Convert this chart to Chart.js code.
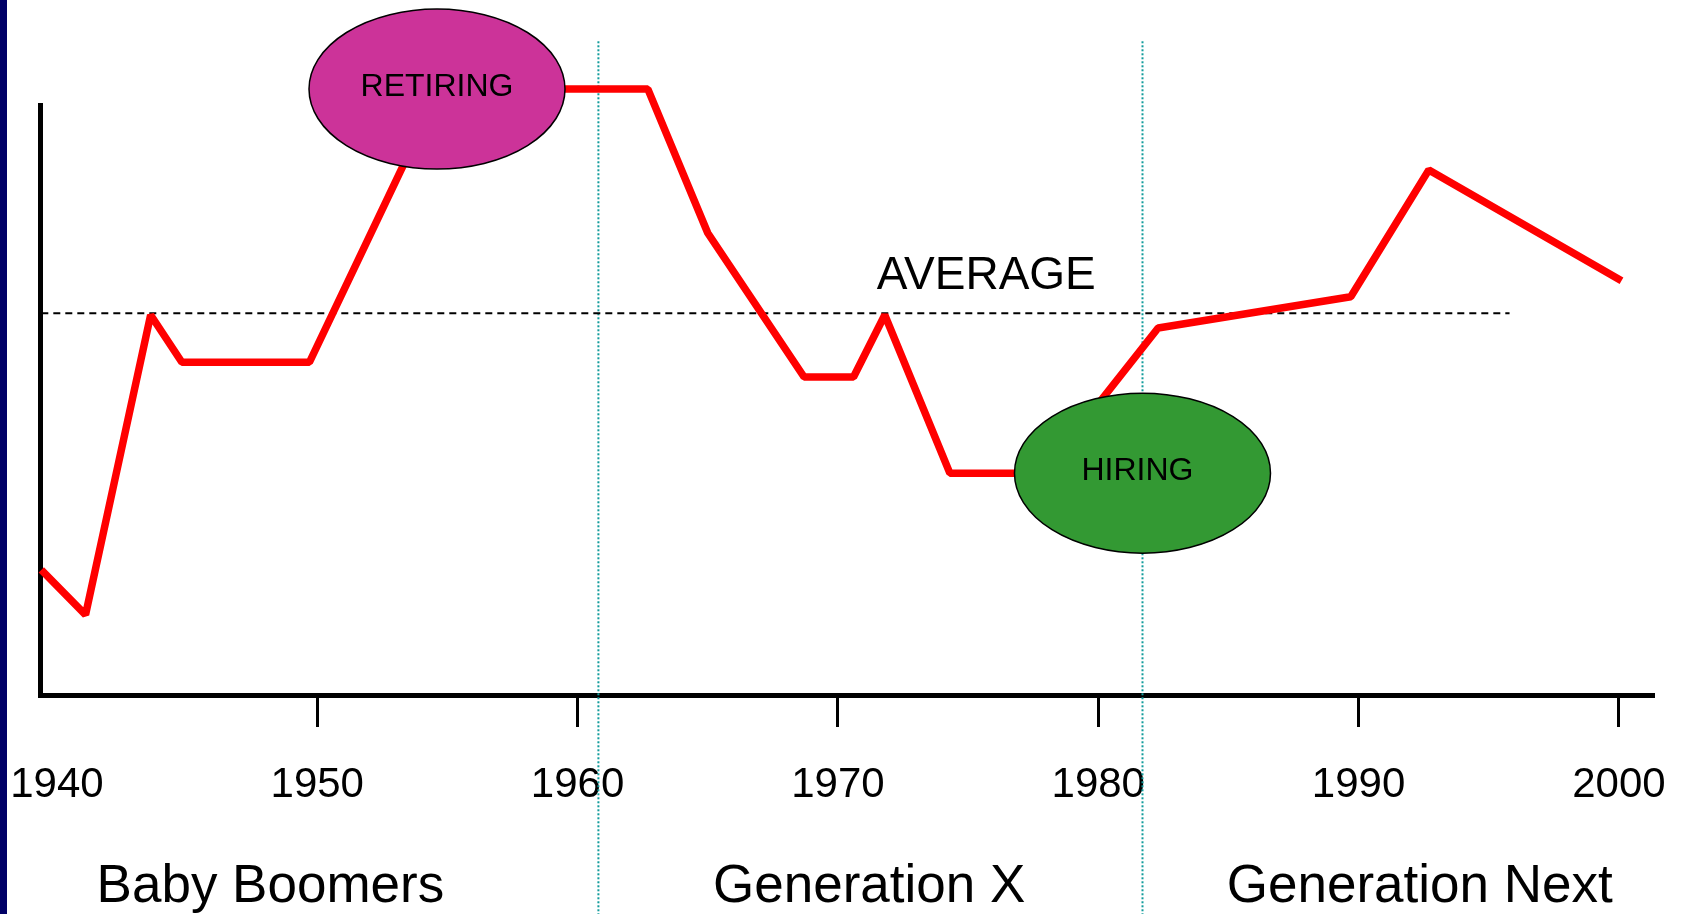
<!DOCTYPE html>
<html>
<head>
<meta charset="utf-8">
<title>Generations</title>
<script src="https://cdn.jsdelivr.net/npm/chart.js@4.4.0/dist/chart.umd.min.js"></script>
<style>
    html, body { margin: 0; padding: 0; background: #fff; overflow: hidden; }
    #wrap { position: relative; width: 1688px; height: 914px; }
    #bar { position: absolute; left: 0; top: 0; width: 7px; height: 914px; background: #000066; }
</style>
</head>
<body>
<div id="wrap">
    <canvas id="myChart" width="1688" height="914"></canvas>
    <div id="bar"></div>
</div>
<script>
const FONT = '"Liberation Sans", Arial, Helvetica, sans-serif';

// corners of the red line: year and level (0 = x axis, 100 = top of y axis)
const years  = [1939.4, 1941.1, 1943.6, 1944.8, 1949.7, 1954.7, 1962.7, 1965.0, 1968.7, 1970.6, 1971.8, 1974.3, 1977.9, 1982.3, 1989.7, 1992.7, 2000.1];
const levels = [21.2, 13.6, 64.4, 56.4, 56.4, 102.7, 102.7, 78.3, 53.9, 53.9, 64.4, 37.6, 37.6, 62.2, 67.5, 89.0, 70.2];

// axis
const tickYears  = [1940, 1950, 1960, 1970, 1980, 1990, 2000];
const tickLabels = ['1940', '1950', '1960', '1970', '1980', '1990', '2000'];

// average line
const averageLevel = 64.7;
const averageSpan = [1939.4, 1995.8];
const averageLabelYear = 1975.7;

// generation boundaries (dotted lines) and names
const dividerYears = [1960.8, 1981.7];
const dividerSpan = [110.8, -37.2];
const generations = ['Baby Boomers', 'Generation X', 'Generation Next'];
const generationYears = [1948.2, 1971.2, 1992.35];

// ellipses
const bubbleLabels = ['RETIRING', 'HIRING'];
const bubbleYears  = [1954.6, 1981.7];
const bubbleLevels = [102.7, 37.6];
const bubbleColors = ['#CC3399', '#339933'];

// ellipses + free texts
const extras = {
    id: 'extras',
    afterDatasetsDraw(chart) {
        const ctx = chart.ctx;
        const x = chart.scales.x;
        const y = chart.scales.y;
        ctx.save();

        bubbleLabels.forEach((label, i) => {
            const cx = x.getPixelForValue(bubbleYears[i]);
            const cy = y.getPixelForValue(bubbleLevels[i]);
            ctx.beginPath();
            ctx.ellipse(cx, cy, 128, 80, 0, 0, Math.PI * 2);
            ctx.fillStyle = bubbleColors[i];
            ctx.fill();
            ctx.lineWidth = 1.5;
            ctx.strokeStyle = '#000';
            ctx.stroke();
            ctx.fillStyle = '#000';
            ctx.font = '32px ' + FONT;
            ctx.textAlign = 'center';
            ctx.textBaseline = 'middle';
            ctx.fillText(label, cx - (i === 1 ? 5 : 0), cy - 2);
        });

        ctx.fillStyle = '#000';
        ctx.textAlign = 'center';
        ctx.textBaseline = 'alphabetic';
        ctx.font = '46px ' + FONT;
        ctx.fillText('AVERAGE', x.getPixelForValue(averageLabelYear), y.getPixelForValue(averageLevel) - 24);

        ctx.font = '53px ' + FONT;
        generations.forEach((g, i) => {
            ctx.fillText(g, x.getPixelForValue(generationYears[i]), 902);
        });
        ctx.restore();
    }
};

const datasets = [
    {
        label: 'trend',
        data: years.map((yr, i) => ({ x: yr, y: levels[i] })),
        borderColor: '#FF0000',
        borderWidth: 7.5,
        borderJoinStyle: 'bevel',
        pointRadius: 0,
        fill: false,
        clip: false,
        order: 0
    },
    {
        label: 'average',
        data: averageSpan.map(yr => ({ x: yr, y: averageLevel })),
        borderColor: '#000',
        borderWidth: 2.2,
        borderDash: [7, 5],
        pointRadius: 0,
        fill: false,
        clip: false,
        order: 1
    }
];
dividerYears.forEach(yr => {
    datasets.push({
        label: 'divider',
        data: dividerSpan.map(v => ({ x: yr, y: v })),
        borderColor: '#129c9c',
        borderWidth: 2,
        borderDash: [2, 2],
        pointRadius: 0,
        fill: false,
        clip: false,
        order: 2
    });
});

const ctx = document.getElementById('myChart').getContext('2d');
const myChart = new Chart(ctx, {
    type: 'line',
    data: { datasets: datasets },
    options: {
        responsive: false,
        animation: false,
        devicePixelRatio: 1,
        events: [],
        layout: { padding: { top: 105, right: 35, bottom: 0, left: 0 } },
        plugins: {
            legend: { display: false },
            tooltip: { enabled: false }
        },
        scales: {
            x: {
                type: 'linear',
                min: 1939.35,
                max: 2001.31,
                afterBuildTicks: (s) => { s.ticks = tickYears.map(v => ({ value: v })); },
                afterFit: (s) => { s.height = 219; },
                grid: {
                    drawOnChartArea: false,
                    drawTicks: true,
                    tickLength: 32,
                    lineWidth: 3,
                    color: (c) => (c.tick && c.tick.value === 1940) ? 'rgba(0,0,0,0)' : '#000'
                },
                border: { display: true, color: '#000', width: 5 },
                ticks: {
                    autoSkip: false,
                    maxRotation: 0,
                    padding: 4,
                    color: '#000',
                    font: { family: FONT, size: 42, lineHeight: 2.57 },
                    callback: (v, i) => tickLabels[i]
                }
            },
            y: {
                type: 'linear',
                min: 0,
                max: 100,
                afterFit: (s) => { s.width = 40; },
                ticks: { display: false },
                grid: { display: false },
                border: { display: true, color: '#000', width: 5 }
            }
        }
    },
    plugins: [extras]
});
</script>
</body>
</html>
